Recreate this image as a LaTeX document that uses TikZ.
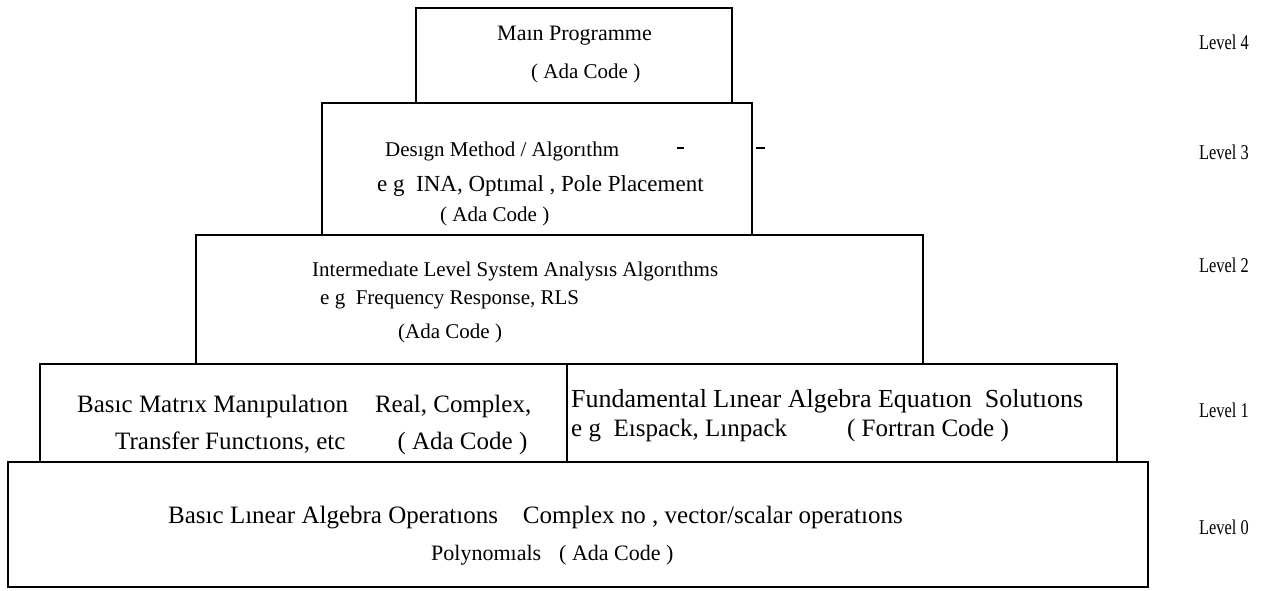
\documentclass[tikz,border=0pt]{standalone}
\usepackage{fontspec}
\usepackage{graphicx}
\setmainfont{Liberation Serif}
\tikzset{
  layer/.style={draw=black, line width=2.4pt},
  txt/.style={anchor=west, inner sep=0pt, font=\fontsize{21}{25}\selectfont},
  big/.style={font=\fontsize{25}{28}\selectfont},
  lvl/.style={anchor=west, inner sep=0pt, font=\fontsize{21}{24}\selectfont},
  speck/.style={draw=black, line width=1.3pt}
}
\newcommand{\lvltext}[1]{\scalebox{0.78}[1]{#1}}
\begin{document}
\begin{tikzpicture}[x=1pt,y=-1pt]
\useasboundingbox[fill=white] (0,0) rectangle (1285,591);

% the layers of the software pyramid
\draw[layer] (416,8) rectangle (732,103);
\draw[layer] (322,103) rectangle (752,235);
\draw[layer] (196,235) rectangle (923,364);
\draw[layer] (40,364) rectangle (567,462);
\draw[layer] (567,364) rectangle (1117,462);
\draw[layer] (8,462) rectangle (1148,587);

% level 4
\node[txt, font=\fontsize{22}{25}\selectfont] (l4a) at (497,36) {Maın Programme};
\node[txt] (l4b) at (531,73) {( Ada Code )};

% level 3
\node[txt] (l3a) at (385,151) {Desıgn Method / Algorıthm};
\node[txt, font=\fontsize{23}{26}\selectfont] (l3b) at (377,186) {e g\ \ INA, Optımal , Pole Placement};
\node[txt] (l3c) at (440,216) {( Ada Code )};
\draw[speck] (677,148) -- (684,148);
\draw[speck] (756,148) -- (765,148);

% level 2
\node[txt] (l2a) at (312,271) {Intermedıate Level System Analysıs Algorıthms};
\node[txt] (l2b) at (320,300) {e g\ \ Frequency Response, RLS};
\node[txt] (l2c) at (398,333) {(Ada Code )};

% level 1
\node[txt, big] (l1a) at (77,406) {Basıc Matrıx Manıpulatıon\hspace{27pt}Real, Complex,};
\node[txt, big] (l1b) at (115,443) {Transfer Functıons, etc\hspace{52pt}( Ada Code )};
\node[txt, font=\fontsize{26}{29}\selectfont] (l1c) at (571,401) {Fundamental Lınear Algebra Equatıon\ \ Solutıons};
\node[txt, big] (l1d) at (571,431) {e g\ \ Eıspack, Lınpack\hspace{60pt}( Fortran Code )};

% level 0
\node[txt, big] (l0a) at (168,518) {Basıc Lınear Algebra Operatıons\ \ \ \ Complex no , vector/scalar operatıons};
\node[txt, font=\fontsize{22}{26}\selectfont] (l0b) at (431,555) {Polynomıals\hspace{18pt}( Ada Code )};

% level names
\node[lvl] (n4) at (1199,42) {\lvltext{Level 4}};
\node[lvl] (n3) at (1199,152) {\lvltext{Level 3}};
\node[lvl] (n2) at (1199,265) {\lvltext{Level 2}};
\node[lvl] (n1) at (1199,410) {\lvltext{Level 1}};
\node[lvl] (n0) at (1199,527) {\lvltext{Level 0}};
\end{tikzpicture}
\end{document}
